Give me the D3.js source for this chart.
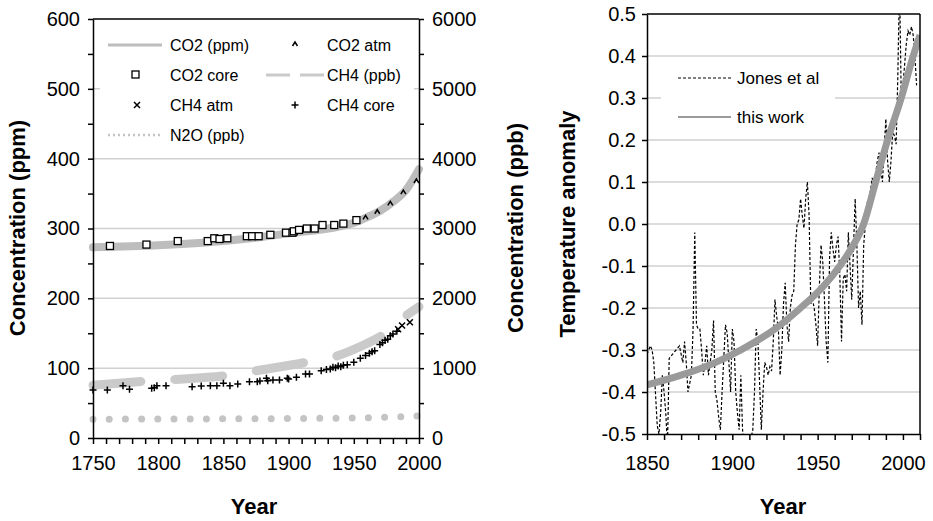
<!DOCTYPE html>
<html>
<head>
<meta charset="utf-8">
<script src="https://cdn.jsdelivr.net/npm/d3@7"></script>
<style>
  body { margin: 0; background: #fff; }
  svg text { font-family: "Liberation Sans Narrow", "Liberation Sans", Arial, sans-serif; }
  .tick text { font-size: 20px; fill: #000; }
  .tick line, .domain { stroke: #000; stroke-width: 1.5; }
  text.ttl { font-family: "Liberation Sans", Arial, sans-serif; font-weight: bold; font-size: 22px; }
  text.leg { font-family: "Liberation Sans", Arial, sans-serif; font-size: 16px; }
</style>
</head>
<body>
<svg id="chart" width="933" height="521"></svg>
<script>
// left panel: greenhouse gases
var co2Years = [1750, 1800, 1850, 1900, 1950, 1960, 1970, 1980, 1990, 2000]
var co2Ppm   = [273, 276, 282, 293, 308, 316, 325, 338, 355, 385]

var co2CoreYears = [1763, 1791, 1815, 1838, 1843, 1847, 1853, 1868, 1872, 1877, 1886, 1898, 1903, 1904, 1908, 1914, 1920, 1926, 1935, 1942, 1952]
var co2CoreVals  = [275, 277, 282, 282, 286, 285, 286, 289, 289, 289, 291, 294, 294, 296, 298, 300, 300, 305, 305, 307, 312]

var co2AtmYears = [1959, 1968, 1978, 1988, 1998]
var co2AtmVals  = [316, 324, 336, 352, 368]

var ch4Years = [1750, 1790, 1810, 1855, 1875, 1915, 1937, 1955, 1975, 1990, 2000]
var ch4Ppb   = [755, 812, 835, 900, 962, 1090, 1175, 1310, 1510, 1750, 1880]

var ch4CoreYears = [1750, 1761, 1773, 1778, 1795, 1797, 1799, 1806, 1826, 1833, 1840, 1845, 1850, 1855, 1861, 1870, 1876, 1878, 1883, 1884, 1888, 1893, 1899, 1900, 1906, 1913, 1916, 1925, 1929, 1932, 1934, 1936, 1938, 1940, 1942, 1945, 1950, 1955, 1959, 1962, 1964, 1966, 1970, 1972, 1974, 1976, 1978, 1980, 1983]
var ch4CoreVals  = [687, 687, 749, 697, 711, 720, 749, 749, 735, 745, 749, 749, 783, 749, 773, 806, 806, 816, 855, 821, 830, 830, 855, 845, 869, 916, 916, 964, 980, 988, 1012, 1007, 1031, 1021, 1040, 1050, 1084, 1141, 1180, 1213, 1236, 1250, 1340, 1365, 1400, 1413, 1465, 1490, 1530]

var ch4AtmYears = [1984, 1987, 1993]
var ch4AtmVals  = [1556, 1610, 1657]

var n2oYears = [1750, 1800, 1850, 1900, 1950, 1970, 1980, 1990, 2000]
var n2oPpb   = [270, 271, 274, 279, 287, 294, 300, 309, 316]

// right panel: temperature anomaly
var jonesYears = [1850, 1852, 1853, 1854, 1856, 1857, 1858, 1859, 1860, 1861, 1862, 1863, 1865, 1867, 1869,
  1871, 1872, 1873, 1874, 1876, 1877, 1878, 1879, 1880, 1881, 1882, 1883, 1884, 1885, 1886, 1887, 1888, 1889,
  1890, 1891, 1892, 1893, 1894, 1895, 1896, 1897, 1898, 1899, 1900, 1901, 1902, 1903, 1904, 1905, 1906, 1907,
  1908, 1909, 1910, 1911, 1912, 1913, 1914, 1915, 1916, 1917, 1918, 1919, 1920, 1921, 1922, 1923, 1924, 1925,
  1926, 1927, 1928, 1929, 1930, 1931, 1932, 1933, 1934, 1935, 1936, 1937, 1938, 1939, 1940, 1941, 1942, 1943,
  1944, 1945, 1946, 1947, 1948, 1949, 1950, 1951, 1952, 1953, 1954, 1955, 1956, 1957, 1958, 1959, 1960, 1961,
  1962, 1963, 1964, 1965, 1966, 1967, 1968, 1969, 1970, 1971, 1972, 1973, 1974, 1975, 1976, 1977, 1978, 1979,
  1980, 1981, 1982, 1983, 1984, 1985, 1986, 1987, 1988, 1989, 1990, 1991, 1992, 1993, 1994, 1995, 1996, 1997,
  1998, 1999, 2000, 2001, 2002, 2003, 2004, 2005, 2006, 2007, 2008]
var jonesAnom = [-0.31, -0.29, -0.30, -0.33, -0.48, -0.50, -0.45, -0.36, -0.40, -0.45, -0.53, -0.32, -0.31, -0.30, -0.29,
  -0.33, -0.28, -0.33, -0.40, -0.36, -0.25, -0.02, -0.24, -0.25, -0.25, -0.30, -0.36, -0.33, -0.29, -0.36, -0.33, -0.30, -0.23,
  -0.40, -0.42, -0.46, -0.49, -0.40, -0.32, -0.24, -0.26, -0.33, -0.40, -0.25, -0.28, -0.40, -0.45, -0.49, -0.36, -0.49, -0.53,
  -0.55, -0.56, -0.53, -0.51, -0.49, -0.40, -0.25, -0.28, -0.38, -0.49, -0.40, -0.33, -0.34, -0.36, -0.34, -0.35, -0.28, -0.18,
  -0.22, -0.25, -0.36, -0.30, -0.19, -0.14, -0.24, -0.28, -0.20, -0.17, -0.16, -0.05, 0.00, 0.01, 0.06, 0.02, -0.01, 0.06,
  0.10, 0.02, -0.19, -0.18, -0.20, -0.24, -0.29, -0.15, -0.05, -0.09, -0.18, -0.28, -0.33, -0.08, -0.02, -0.06, -0.09, -0.05,
  -0.03, -0.12, -0.28, -0.13, -0.12, -0.16, -0.02, -0.10, -0.18, -0.06, 0.06, -0.05, -0.20, -0.16, -0.24, -0.05, 0.00, 0.05,
  0.06, 0.08, 0.11, 0.08, 0.12, 0.15, 0.17, 0.13, 0.10, 0.18, 0.25, 0.15, 0.10, 0.15, 0.22, 0.21, 0.19, 0.35,
  0.58, 0.30, 0.33, 0.38, 0.43, 0.46, 0.45, 0.47, 0.45, 0.40, 0.33]

var fitYears = [1850, 1870, 1890, 1905, 1925, 1940, 1953, 1963, 1971, 1977, 1984, 1991, 1999, 2006, 2010]
var fitAnom  = [-0.383, -0.36, -0.33, -0.30, -0.25, -0.20, -0.15, -0.10, -0.05, 0.0, 0.10, 0.20, 0.30, 0.40, 0.45]

var svg = d3.select('#chart')

// ---------- left panel ----------
var x = d3.scaleLinear().domain([1750, 2000]).range([93, 419])
var yL = d3.scaleLinear().domain([0, 600]).range([438, 19])
var yR = d3.scaleLinear().domain([0, 6000]).range([438, 19])

var left = svg.append('g')

left.selectAll('line.grid').data(d3.range(100, 600, 100))
  .enter().append('line').attr('class', 'grid')
  .attr('x1', x(1750)).attr('x2', x(2000))
  .attr('y1', function(d) { return yL(d) }).attr('y2', function(d) { return yL(d) })
  .attr('stroke', '#d0d0d0').attr('stroke-width', 1.5)

// legend box hides the gridline behind it
left.append('rect').attr('x', 100).attr('y', 28).attr('width', 314).attr('height', 122).attr('fill', '#fff')

var lineL = function(xs, ys, sc) {
  return d3.line().curve(d3.curveMonotoneX)
    .x(function(d, i) { return x(xs[i]) })
    .y(function(d, i) { return sc(ys[i]) })(xs)
}

left.append('path').attr('d', lineL(n2oYears, n2oPpb, yR))
  .attr('fill', 'none').attr('stroke', '#c4c4c4').attr('stroke-width', 7)
  .attr('stroke-linecap', 'round').attr('stroke-dasharray', '0,16.2')

left.append('path').attr('d', lineL(ch4Years, ch4Ppb, yR))
  .attr('fill', 'none').attr('stroke', '#cacaca').attr('stroke-width', 9)
  .attr('stroke-linecap', 'round').attr('stroke-dasharray', '48,34')

left.append('path').attr('d', lineL(co2Years, co2Ppm, yL))
  .attr('fill', 'none').attr('stroke', '#bdbdbd').attr('stroke-width', 8)
  .attr('stroke-linecap', 'round')

var plusPath = 'M-3.5,0H3.5M0,-3.5V3.5'
  , crossPath = 'M-3,-3L3,3M-3,3L3,-3'
  , chevPath = 'M-2.5,2L0,-2L2.5,2'

left.selectAll('path.ch4core').data(ch4CoreYears)
  .enter().append('path').attr('class', 'ch4core')
  .attr('transform', function(d, i) { return 'translate(' + x(d) + ',' + yR(ch4CoreVals[i]) + ')' })
  .attr('d', plusPath).attr('stroke', '#000').attr('stroke-width', 1.5)

left.selectAll('path.ch4atm').data(ch4AtmYears)
  .enter().append('path').attr('class', 'ch4atm')
  .attr('transform', function(d, i) { return 'translate(' + x(d) + ',' + yR(ch4AtmVals[i]) + ')' })
  .attr('d', crossPath).attr('stroke', '#000').attr('stroke-width', 1.5)

left.selectAll('rect.co2core').data(co2CoreYears)
  .enter().append('rect').attr('class', 'co2core')
  .attr('x', function(d) { return x(d) - 3.5 })
  .attr('y', function(d, i) { return yL(co2CoreVals[i]) - 3.5 })
  .attr('width', 7).attr('height', 7)
  .attr('fill', '#fff').attr('stroke', '#000').attr('stroke-width', 1.3)

left.selectAll('path.co2atm').data(co2AtmYears)
  .enter().append('path').attr('class', 'co2atm')
  .attr('transform', function(d, i) { return 'translate(' + x(d) + ',' + yL(co2AtmVals[i]) + ')' })
  .attr('d', chevPath).attr('fill', 'none').attr('stroke', '#000').attr('stroke-width', 1.5)

// legend entries
var leg = left.append('g')
var legRow = [45, 75, 105, 135]
leg.append('line').attr('x1', 108).attr('x2', 162).attr('y1', legRow[0]).attr('y2', legRow[0])
  .attr('stroke', '#bdbdbd').attr('stroke-width', 3)
leg.append('path').attr('transform', 'translate(295,' + (legRow[0] - 1) + ')').attr('d', chevPath)
  .attr('fill', 'none').attr('stroke', '#000').attr('stroke-width', 1.5)
leg.append('rect').attr('x', 132).attr('y', legRow[1] - 4).attr('width', 7).attr('height', 7)
  .attr('fill', '#fff').attr('stroke', '#000').attr('stroke-width', 1.3)
leg.append('line').attr('x1', 266).attr('x2', 324).attr('y1', legRow[1]).attr('y2', legRow[1])
  .attr('stroke', '#cacaca').attr('stroke-width', 3).attr('stroke-dasharray', '24,10')
leg.append('path').attr('transform', 'translate(137,' + legRow[2] + ')').attr('d', crossPath)
  .attr('stroke', '#000').attr('stroke-width', 1.5)
leg.append('path').attr('transform', 'translate(295,' + legRow[2] + ')').attr('d', plusPath)
  .attr('stroke', '#000').attr('stroke-width', 1.5)
leg.append('line').attr('x1', 108).attr('x2', 162).attr('y1', legRow[3]).attr('y2', legRow[3])
  .attr('stroke', '#c4c4c4').attr('stroke-width', 2.5).attr('stroke-dasharray', '2,3')

var legText = [['CO2 (ppm)', 170, 0], ['CO2 atm', 327, 0], ['CO2 core', 170, 1], ['CH4 (ppb)', 327, 1],
  ['CH4 atm', 170, 2], ['CH4 core', 327, 2], ['N2O (ppb)', 170, 3]]
leg.selectAll('text').data(legText).enter().append('text').attr('class', 'leg')
  .attr('x', function(d) { return d[1] }).attr('y', function(d) { return legRow[d[2]] + 6 })
  .text(function(d) { return d[0] })

// frame + axes
left.append('line').attr('x1', x(1750)).attr('x2', x(2000)).attr('y1', yL(600)).attr('y2', yL(600))
  .attr('stroke', '#000').attr('stroke-width', 1.5)

left.append('g').attr('transform', 'translate(0,' + yL(0) + ')')
  .call(d3.axisBottom(x).tickValues(d3.range(1750, 2001, 10)).tickSize(6).tickSizeOuter(0).tickPadding(12)
    .tickFormat(function(d) { return d % 50 === 0 ? d : '' }))
left.append('g').attr('transform', 'translate(' + x(1750) + ',0)')
  .call(d3.axisLeft(yL).tickValues(d3.range(0, 601, 50)).tickSize(5).tickSizeOuter(0).tickPadding(8)
    .tickFormat(function(d) { return d % 100 === 0 ? d : '' }))
left.append('g').attr('transform', 'translate(' + x(2000) + ',0)')
  .call(d3.axisRight(yR).tickValues(d3.range(0, 6001, 500)).tickSize(5).tickSizeOuter(0).tickPadding(8)
    .tickFormat(function(d) { return d % 1000 === 0 ? d : '' }))

left.append('text').attr('class', 'ttl').attr('text-anchor', 'middle')
  .attr('transform', 'translate(25,228) rotate(-90)').text('Concentration (ppm)')
left.append('text').attr('class', 'ttl').attr('text-anchor', 'middle')
  .attr('transform', 'translate(523,228) rotate(-90)').text('Concentration (ppb)')
left.append('text').attr('class', 'ttl').attr('text-anchor', 'middle')
  .attr('x', 254).attr('y', 514).text('Year')

// ---------- right panel ----------
var x2 = d3.scaleLinear().domain([1850, 2010]).range([647, 920])
var y2 = d3.scaleLinear().domain([-0.5, 0.5]).range([434, 14])
var right = svg.append('g')

right.selectAll('line.grid').data(d3.range(-4, 5))
  .enter().append('line').attr('class', 'grid')
  .attr('x1', x2(1850)).attr('x2', x2(2010))
  .attr('y1', function(d) { return y2(d / 10) }).attr('y2', function(d) { return y2(d / 10) })
  .attr('stroke', '#d0d0d0').attr('stroke-width', 1.5)

right.append('rect').attr('x', 661).attr('y', 62).attr('width', 174).attr('height', 72).attr('fill', '#fff')

svg.append('clipPath').attr('id', 'clipR').append('rect')
  .attr('x', x2(1850)).attr('y', y2(0.5)).attr('width', x2(2010) - x2(1850)).attr('height', y2(-0.5) - y2(0.5))

right.append('path').attr('clip-path', 'url(#clipR)')
  .attr('d', d3.line().x(function(d) { return x2(d) }).y(function(d, i) { return y2(jonesAnom[i]) })(jonesYears))
  .attr('fill', 'none').attr('stroke', '#000').attr('stroke-width', 1.2).attr('stroke-dasharray', '3,2')

right.append('path').attr('clip-path', 'url(#clipR)')
  .attr('d', d3.line().curve(d3.curveMonotoneX).x(function(d) { return x2(d) }).y(function(d, i) { return y2(fitAnom[i]) })(fitYears))
  .attr('fill', 'none').attr('stroke', '#9a9a9a').attr('stroke-width', 7)

// legend
right.append('line').attr('x1', 678).attr('x2', 731).attr('y1', 78).attr('y2', 78)
  .attr('stroke', '#000').attr('stroke-width', 1.2).attr('stroke-dasharray', '3,2')
right.append('line').attr('x1', 678).attr('x2', 731).attr('y1', 117).attr('y2', 117)
  .attr('stroke', '#9a9a9a').attr('stroke-width', 2)
right.append('text').attr('class', 'leg').style('font-size', '17px').attr('x', 737).attr('y', 84).text('Jones et al')
right.append('text').attr('class', 'leg').style('font-size', '17px').attr('x', 737).attr('y', 123).text('this work')

right.append('line').attr('x1', x2(1850)).attr('x2', x2(2010)).attr('y1', y2(0.5)).attr('y2', y2(0.5))
  .attr('stroke', '#000').attr('stroke-width', 1.5)
right.append('line').attr('x1', x2(2010)).attr('x2', x2(2010)).attr('y1', y2(0.5)).attr('y2', y2(-0.5))
  .attr('stroke', '#000').attr('stroke-width', 1.5)

right.append('g').attr('transform', 'translate(0,' + y2(-0.5) + ')')
  .call(d3.axisBottom(x2).tickValues(d3.range(1850, 2011, 10)).tickSize(6).tickSizeOuter(0).tickPadding(16)
    .tickFormat(function(d) { return d % 50 === 0 ? d : '' }))
right.append('g').attr('transform', 'translate(' + x2(1850) + ',0)')
  .call(d3.axisLeft(y2).tickValues(d3.range(-5, 6).map(function(d) { return d / 10 })).tickSize(5).tickSizeOuter(0).tickPadding(6)
    .tickFormat(function(d) { return d.toFixed(1) }))

right.append('text').attr('class', 'ttl').attr('text-anchor', 'middle')
  .attr('transform', 'translate(575,224) rotate(-90)').text('Temperature anomaly')
right.append('text').attr('class', 'ttl').attr('text-anchor', 'middle')
  .attr('x', 783).attr('y', 514).text('Year')
</script>
</body>
</html>
